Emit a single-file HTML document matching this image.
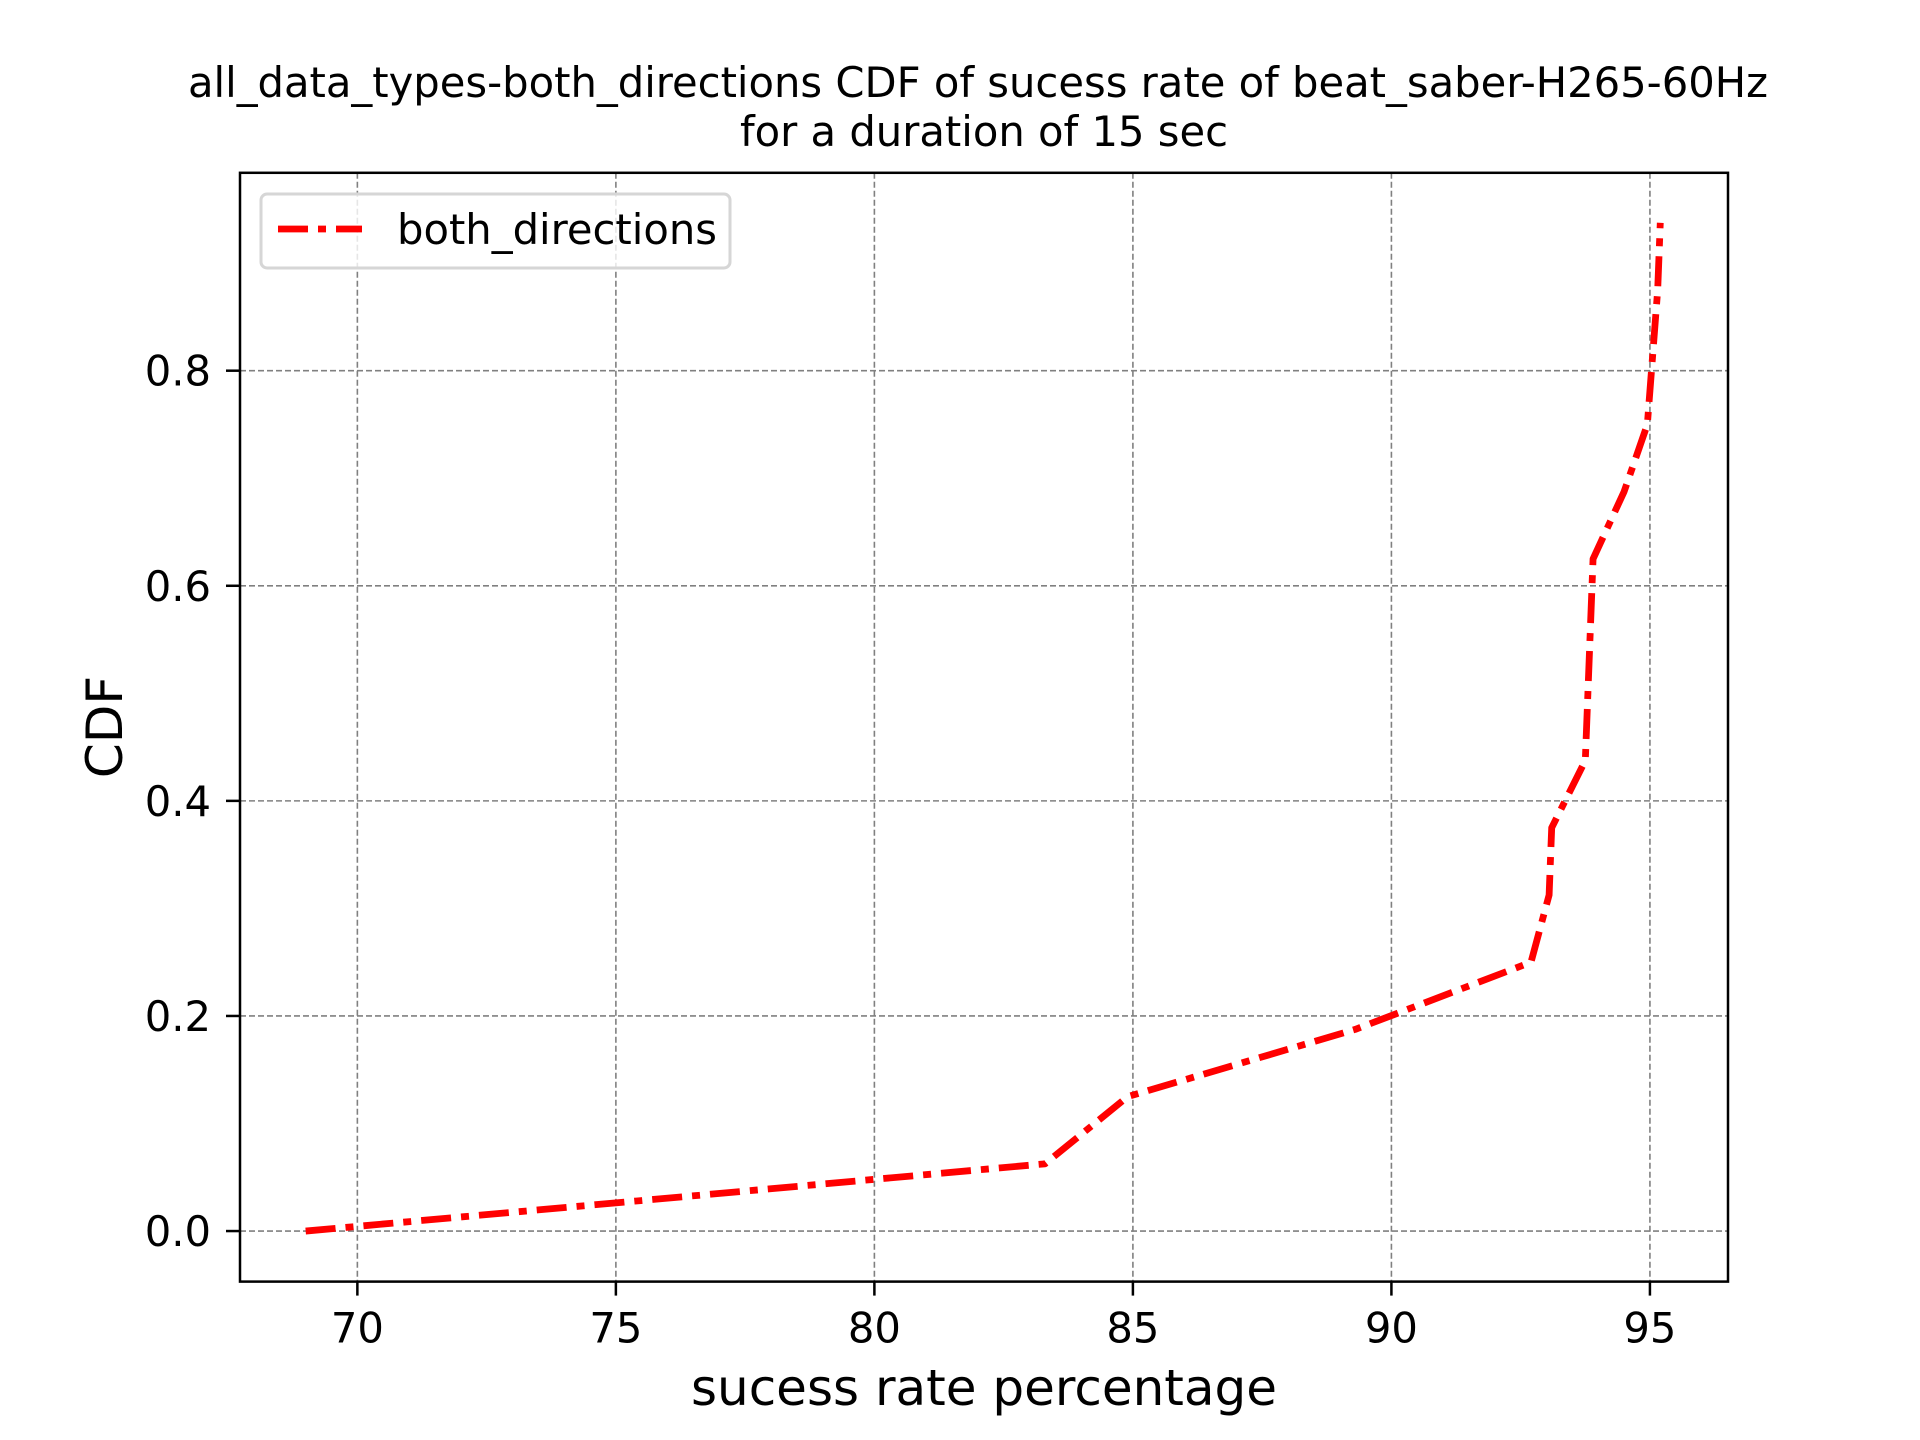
<!DOCTYPE html>
<html><head><meta charset="utf-8"><style>
html,body{margin:0;padding:0;background:#fff;}
svg{display:block;font-family:"DejaVu Sans","Liberation Sans",sans-serif;}
</style></head><body>
<svg id="chart" width="1920" height="1440" viewBox="0 0 1920 1440" xmlns="http://www.w3.org/2000/svg">
<rect width="1920" height="1440" fill="#fff"/>
<text x="978" y="97" font-size="41.7" text-anchor="middle">all_data_types-both_directions CDF of sucess rate of beat_saber-H265-60Hz</text>
<text x="984" y="146" font-size="41.7" text-anchor="middle">for a duration of 15 sec</text>
<g id="grid"></g>
<g id="ticks"></g>
<polyline id="series" fill="none" stroke="#ff0000" stroke-width="6.8" stroke-dasharray="30,10,8,10" stroke-linejoin="round"/>
<rect x="240" y="172.8" width="1488" height="1108.8" fill="none" stroke="#000" stroke-width="2.5"/>
<text x="984" y="1405" font-size="50" text-anchor="middle">sucess rate percentage</text>
<text transform="translate(122,727) rotate(-90)" font-size="50" text-anchor="middle">CDF</text>
<g>
<rect x="261" y="194" width="469" height="74" rx="6" fill="#fff" fill-opacity="0.8" stroke="#d6d6d6" stroke-width="3"/>
<line x1="278" y1="229" x2="362" y2="229" stroke="#ff0000" stroke-width="6.8" stroke-dasharray="30,10,8,10"/>
<text x="397" y="244" font-size="41.7">both_directions</text>
</g>
</svg>
<script>
const xTicks = [70, 75, 80, 85, 90, 95];
const yTicks = [0.0, 0.2, 0.4, 0.6, 0.8];
const yTickLabels = ["0.0", "0.2", "0.4", "0.6", "0.8"];
const seriesX = [69.0, 83.3, 84.9, 89.3, 92.7, 93.05, 93.1, 93.75, 93.8, 93.85, 93.9, 94.5, 94.95, 95.05, 95.15, 95.2];
const seriesY = [0, 0.0625, 0.125, 0.1875, 0.25, 0.3125, 0.375, 0.4375, 0.5, 0.5625, 0.625, 0.6875, 0.75, 0.8125, 0.875, 0.9375];

const L = 240, R = 1728, T = 172.8, B = 1281.6;
const xMin = 67.73, xMax = 96.51, yMin = -0.047, yMax = 0.984;
const xs = v => L + (v - xMin) / (xMax - xMin) * (R - L);
const ys = v => B - (v - yMin) / (yMax - yMin) * (B - T);
const NS = "http://www.w3.org/2000/svg";
const grid = document.getElementById('grid');
const ticks = document.getElementById('ticks');
function mk(tag, attrs, parent) {
  const e = document.createElementNS(NS, tag);
  for (const k in attrs) e.setAttribute(k, attrs[k]);
  parent.appendChild(e);
  return e;
}
xTicks.forEach(v => {
  const x = xs(v);
  const g = mk('line', {x1: x, x2: x, y1: T, y2: B, stroke: '#808080', 'stroke-width': 1.6, 'stroke-dasharray': '6,3'}, grid);
  
  
  const t = mk('line', {x1: x, x2: x, y1: B, y2: B + 14, stroke: '#000', 'stroke-width': 2.5}, ticks);
  
  
  const lb = mk('text', {x: x, y: B + 61, 'font-size': 41.7, 'text-anchor': 'middle'}, ticks);
  lb.textContent = String(v);
  
  
});
yTicks.forEach((v, i) => {
  const y = ys(v);
  const g = mk('line', {x1: L, x2: R, y1: y, y2: y, stroke: '#808080', 'stroke-width': 1.6, 'stroke-dasharray': '6,3'}, grid);
  
  
  const t = mk('line', {x1: L - 14, x2: L, y1: y, y2: y, stroke: '#000', 'stroke-width': 2.5}, ticks);
  
  
  const lb = mk('text', {x: L - 29, y: y + 15, 'font-size': 41.7, 'text-anchor': 'end'}, ticks);
  lb.textContent = yTickLabels[i];
  
  
});
document.getElementById('series').setAttribute('points', seriesX.map((v, i) => xs(v) + ',' + ys(seriesY[i])).join(' '));
</script>
</body></html>
